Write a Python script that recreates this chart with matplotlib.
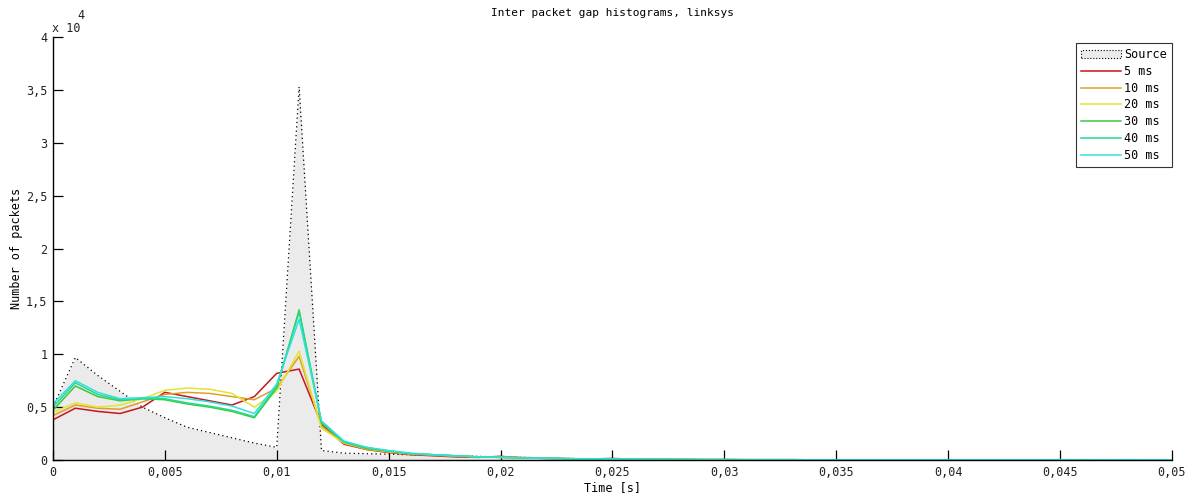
import matplotlib.pyplot as plt
import numpy as np
from matplotlib.ticker import FixedLocator, FuncFormatter
from matplotlib.patches import Patch

# bin centres, 1 ms wide, 0 .. 50 ms
time_s = np.arange(0, 51) / 1000.0

source = [5000, 9700, 8000, 6500, 5000, 4000, 3100, 2600, 2100, 1600,
          1200, 35300, 900, 650, 600, 550, 500, 450, 400, 350,
          300, 250, 200, 150, 100, 80, 60, 50, 40, 30,
          30, 20, 20, 20, 10, 10, 10, 10, 10, 10,
          10, 10, 10, 10, 10, 10, 10, 10, 10, 10, 10]

gap_5 = [3800, 4900, 4600, 4400, 5000, 6400, 6000, 5600, 5200, 6000,
         8200, 8600, 3400, 1500, 1000, 700, 500, 400, 300, 250,
         350, 200, 150, 120, 100, 150, 80, 60, 50, 40,
         40, 30, 30, 30, 20, 20, 20, 20, 20, 20,
         20, 20, 20, 20, 20, 20, 20, 20, 20, 20, 20]
gap_10 = [4200, 5200, 4900, 4800, 5500, 6200, 6400, 6300, 6000, 5700,
          6800, 9800, 3200, 1600, 1000, 750, 550, 450, 350, 300,
          300, 250, 180, 140, 110, 90, 80, 60, 50, 40,
          40, 30, 30, 30, 20, 20, 20, 20, 20, 20,
          20, 20, 20, 20, 20, 20, 20, 20, 20, 20, 20]
gap_20 = [4500, 5400, 5000, 5200, 5800, 6600, 6800, 6700, 6300, 5000,
          6500, 10300, 3000, 1600, 1100, 800, 600, 500, 400, 300,
          250, 200, 160, 130, 100, 90, 70, 60, 50, 40,
          40, 30, 30, 30, 20, 20, 20, 20, 20, 20,
          20, 20, 20, 20, 20, 20, 40, 20, 20, 20, 20]
gap_30 = [4700, 7000, 6000, 5600, 5800, 5700, 5300, 5000, 4600, 4000,
          6800, 14200, 3500, 1700, 1100, 850, 600, 500, 400, 300,
          250, 200, 160, 130, 100, 90, 70, 60, 50, 40,
          40, 30, 30, 30, 20, 20, 20, 20, 20, 20,
          20, 20, 20, 20, 20, 20, 20, 20, 20, 20, 20]
gap_40 = [5000, 7300, 6200, 5700, 5800, 5800, 5400, 5100, 4700, 4100,
          7000, 14000, 3600, 1700, 1200, 850, 600, 500, 400, 300,
          250, 200, 160, 130, 100, 90, 70, 60, 50, 40,
          40, 30, 30, 30, 20, 20, 20, 20, 20, 20,
          20, 20, 20, 20, 20, 20, 20, 20, 20, 20, 20]
gap_50 = [5300, 7500, 6400, 5800, 5900, 6000, 5800, 5500, 5100, 4400,
          7200, 13300, 3700, 1800, 1200, 900, 650, 500, 400, 300,
          250, 200, 160, 130, 100, 90, 70, 60, 50, 40,
          40, 30, 30, 30, 20, 20, 20, 20, 20, 20,
          20, 20, 20, 20, 20, 40, 20, 20, 40, 20, 20]

series = [('5 ms', gap_5, '#c8141e'),
          ('10 ms', gap_10, '#dca02a'),
          ('20 ms', gap_20, '#e4e432'),
          ('30 ms', gap_30, '#3cc83c'),
          ('40 ms', gap_40, '#22dc8c'),
          ('50 ms', gap_50, '#30e0e0')]

x_ticks = [0, 0.005, 0.01, 0.015, 0.02, 0.025, 0.03, 0.035, 0.04, 0.045, 0.05]
y_ticks = [0, 5000, 10000, 15000, 20000, 25000, 30000, 35000, 40000]

plt.rcParams['font.family'] = ['DejaVu Sans Mono']
plt.rcParams['font.size'] = 8.5

fig = plt.figure(figsize=(11.98, 4.97), dpi=100)
ax = fig.add_axes([0.0442, 0.0744, 0.934, 0.851])

ax.fill_between(time_s, source, color='#ebebeb', linewidth=0)
ax.plot(time_s, source, color='black', linestyle=(0, (1, 2.5)), linewidth=0.9)
for name, vals, col in series:
    ax.plot(time_s, vals, color=col, linewidth=1.1, label=name)

ax.set_xlim(0, 0.05)
ax.set_ylim(0, 40000)
ax.xaxis.set_major_locator(FixedLocator(x_ticks))
ax.yaxis.set_major_locator(FixedLocator(y_ticks))
comma = lambda s: s.replace('.', ',')
ax.xaxis.set_major_formatter(FuncFormatter(lambda v, p: '0' if v == 0 else comma(f'{v:g}')))
ax.yaxis.set_major_formatter(FuncFormatter(lambda v, p: comma(f'{v / 1e4:g}')))
ax.tick_params(direction='in', length=7, width=0.9, colors='black', labelcolor='#222222', pad=4)
for s in ['top', 'right']:
    ax.spines[s].set_visible(False)
for s in ['left', 'bottom']:
    ax.spines[s].set_linewidth(1.0)

ax.text(-0.0005, 1.006, 'x 10', transform=ax.transAxes, ha='left', va='bottom', color='#222222')
ax.text(0.0215, 1.035, '4', transform=ax.transAxes, ha='left', va='bottom', color='#222222')

ax.set_title('Inter packet gap histograms, linksys', fontsize=8, pad=15)
ax.set_xlabel('Time [s]', labelpad=2)
ax.set_ylabel('Number of packets', labelpad=2)

handles, labels = ax.get_legend_handles_labels()
src_patch = Patch(facecolor='#ebebeb', edgecolor='black', linestyle=':', linewidth=0.8)
leg = ax.legend([src_patch] + handles, ['Source'] + labels, loc='upper right',
                bbox_to_anchor=(1.0, 0.985), fancybox=False, framealpha=1,
                edgecolor='#333333', handlelength=3.4, handletextpad=0.3,
                labelspacing=0.32, borderpad=0.4, borderaxespad=0)
leg.get_frame().set_linewidth(0.8)

fig.savefig('out.png', dpi=100)
plt.close()
